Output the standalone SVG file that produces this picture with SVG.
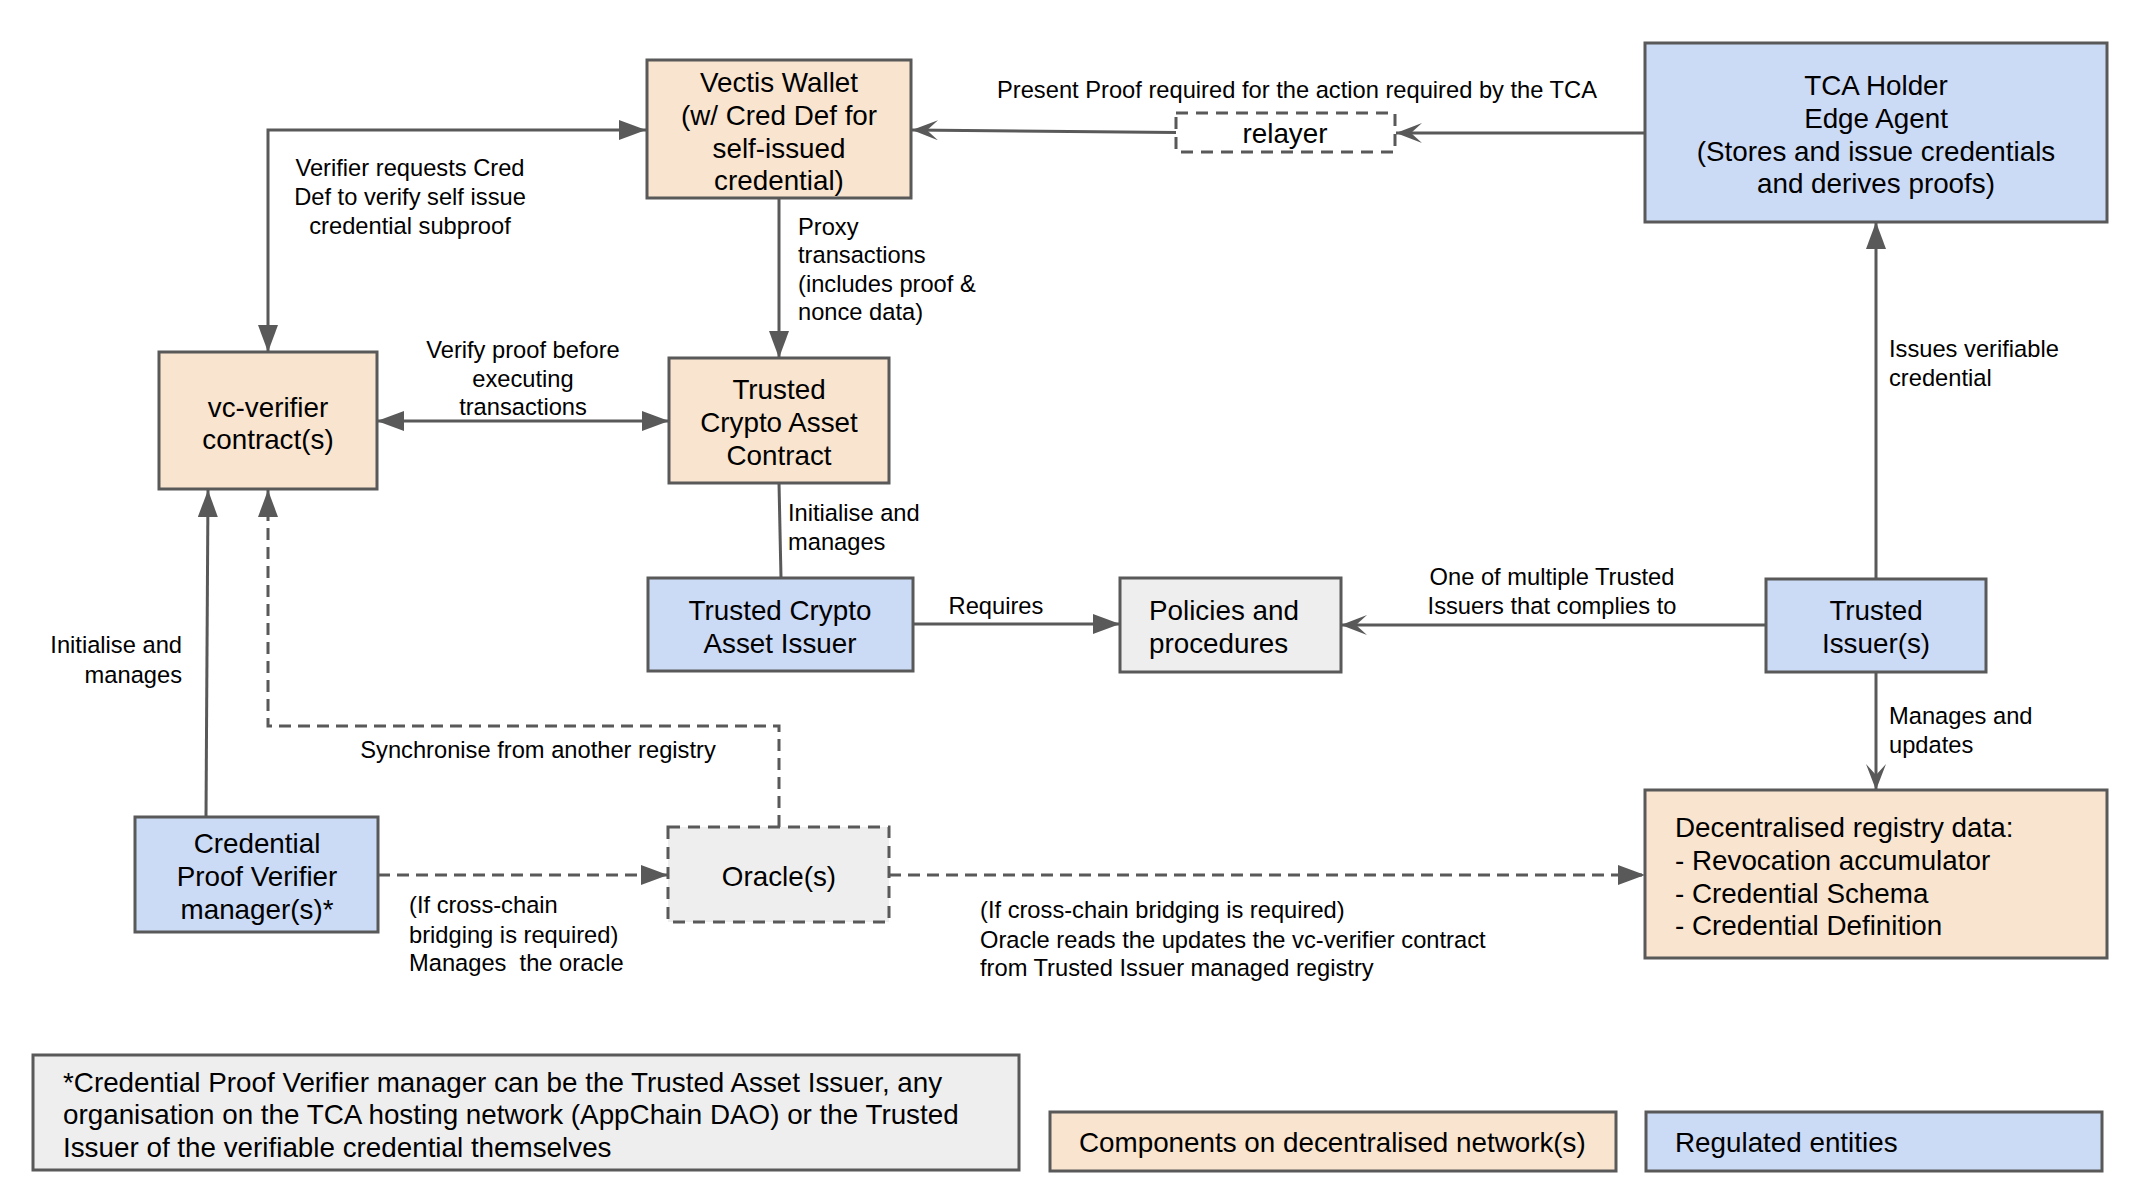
<svg xmlns="http://www.w3.org/2000/svg" width="2144" height="1204" viewBox="0 0 2144 1204">
  <style>
    .box { stroke: #595959; stroke-width: 3; }
    .peach { fill: #f8e4cf; }
    .blue { fill: #cbdaf5; }
    .grey { fill: #eeeeee; }
    .dashbox { stroke-dasharray: 12 8; }
    .node { font-family: "Liberation Sans", Arial, sans-serif; font-size: 27.8px; fill: #000; }
    .lbl { font-family: "Liberation Sans", Arial, sans-serif; font-size: 23.7px; fill: #000; }
    .mid { text-anchor: middle; }
    .end { text-anchor: end; }
    .edge { fill: none; stroke: #595959; stroke-width: 3; }
    .dashed { stroke-dasharray: 12 7; }
  </style>
  <defs>
    <marker id="tri" markerUnits="userSpaceOnUse" markerWidth="28" markerHeight="22" refX="27" refY="10" orient="auto-start-reverse" viewBox="0 0 28 22">
      <path d="M0,0 L27,10 L0,20 Z" fill="#595959"/>
    </marker>
    <marker id="stealth" markerUnits="userSpaceOnUse" markerWidth="28" markerHeight="22" refX="26" refY="10" orient="auto-start-reverse" viewBox="0 0 28 22">
      <path d="M0,0 L26,10 L0,20 L11,10 Z" fill="#595959"/>
    </marker>
  </defs>

  <rect width="2144" height="1204" fill="#ffffff"/>

  <!-- connectors -->
  <g id="connectors">
    <path class="edge" d="M268,352 V130 H646" marker-start="url(#tri)" marker-end="url(#tri)"/>
    <path class="edge" d="M779,198 V358" marker-end="url(#tri)"/>
    <path class="edge" d="M377,421 H669" marker-start="url(#tri)" marker-end="url(#tri)"/>
    <path class="edge" d="M779,483 L781,578"/>
    <path class="edge" d="M913,624 H1120" marker-end="url(#tri)"/>
    <path class="edge" d="M1766,625 H1341" marker-end="url(#stealth)"/>
    <path class="edge" d="M1645,133 H1396" marker-end="url(#stealth)"/>
    <path class="edge" d="M1176,132.5 L912,130" marker-end="url(#stealth)"/>
    <path class="edge" d="M1876,579 V222" marker-end="url(#tri)"/>
    <path class="edge" d="M1876,672 V790" marker-end="url(#stealth)"/>
    <path class="edge" d="M206,817 L208,490" marker-end="url(#tri)"/>
    <path class="edge dashed" d="M779,827 V726 H268 V490" marker-end="url(#tri)"/>
    <path class="edge dashed" d="M378,875 H668" marker-end="url(#tri)"/>
    <path class="edge dashed" d="M889,875 H1645" marker-end="url(#tri)"/>

    <text class="lbl mid" x="1297" y="98">Present Proof required for the action required by the TCA</text>
    <text class="lbl mid" x="410" y="176">Verifier requests Cred</text>
    <text class="lbl mid" x="410" y="205">Def to verify self issue</text>
    <text class="lbl mid" x="410" y="234">credential subproof</text>
    <text class="lbl" x="798" y="235">Proxy</text>
    <text class="lbl" x="798" y="263">transactions</text>
    <text class="lbl" x="798" y="292">(includes proof &amp;</text>
    <text class="lbl" x="798" y="320">nonce data)</text>
    <text class="lbl mid" x="523" y="358">Verify proof before</text>
    <text class="lbl mid" x="523" y="387">executing</text>
    <text class="lbl mid" x="523" y="415">transactions</text>
    <text class="lbl" x="788" y="521">Initialise and</text>
    <text class="lbl" x="788" y="550">manages</text>
    <text class="lbl end" x="182" y="653">Initialise and</text>
    <text class="lbl end" x="182" y="683">manages</text>
    <text class="lbl mid" x="538" y="758">Synchronise from another registry</text>
    <text class="lbl" x="409" y="913">(If cross-chain</text>
    <text class="lbl" x="409" y="943">bridging is required)</text>
    <text class="lbl" x="409" y="971" xml:space="preserve">Manages  the oracle</text>
    <text class="lbl" x="980" y="918">(If cross-chain bridging is required)</text>
    <text class="lbl" x="980" y="948">Oracle reads the updates the vc-verifier contract</text>
    <text class="lbl" x="980" y="976">from Trusted Issuer managed registry</text>
    <text class="lbl mid" x="996" y="614">Requires</text>
    <text class="lbl mid" x="1552" y="585">One of multiple Trusted</text>
    <text class="lbl mid" x="1552" y="614">Issuers that complies to</text>
    <text class="lbl" x="1889" y="357">Issues verifiable</text>
    <text class="lbl" x="1889" y="386">credential</text>
    <text class="lbl" x="1889" y="724">Manages and</text>
    <text class="lbl" x="1889" y="753">updates</text>
  </g>

  <!-- nodes -->
  <g id="vectis-wallet">
    <rect class="box peach" x="647" y="60" width="264" height="138"/>
    <text class="node mid" x="779" y="92">Vectis Wallet</text>
    <text class="node mid" x="779" y="125">(w/ Cred Def for</text>
    <text class="node mid" x="779" y="158">self-issued</text>
    <text class="node mid" x="779" y="190">credential)</text>
  </g>

  <g id="tca-holder">
    <rect class="box blue" x="1645" y="43" width="462" height="179"/>
    <text class="node mid" x="1876" y="95">TCA Holder</text>
    <text class="node mid" x="1876" y="128">Edge Agent</text>
    <text class="node mid" x="1876" y="161">(Stores and issue credentials</text>
    <text class="node mid" x="1876" y="193">and derives proofs)</text>
  </g>

  <g id="relayer">
    <rect class="box dashbox" fill="#ffffff" x="1176" y="113" width="219" height="39"/>
    <text class="node mid" x="1285" y="143">relayer</text>
  </g>

  <g id="vc-verifier">
    <rect class="box peach" x="159" y="352" width="218" height="137"/>
    <text class="node mid" x="268" y="417">vc-verifier</text>
    <text class="node mid" x="268" y="449">contract(s)</text>
  </g>

  <g id="tca-contract">
    <rect class="box peach" x="669" y="358" width="220" height="125"/>
    <text class="node mid" x="779" y="399">Trusted</text>
    <text class="node mid" x="779" y="432">Crypto Asset</text>
    <text class="node mid" x="779" y="465">Contract</text>
  </g>

  <g id="tca-issuer">
    <rect class="box blue" x="648" y="578" width="265" height="93"/>
    <text class="node mid" x="780" y="620">Trusted Crypto</text>
    <text class="node mid" x="780" y="653">Asset Issuer</text>
  </g>

  <g id="policies">
    <rect class="box grey" x="1120" y="578" width="221" height="94"/>
    <text class="node" x="1149" y="620">Policies and</text>
    <text class="node" x="1149" y="653">procedures</text>
  </g>

  <g id="trusted-issuer">
    <rect class="box blue" x="1766" y="579" width="220" height="93"/>
    <text class="node mid" x="1876" y="620">Trusted</text>
    <text class="node mid" x="1876" y="653">Issuer(s)</text>
  </g>

  <g id="registry">
    <rect class="box peach" x="1645" y="790" width="462" height="168"/>
    <text class="node" x="1675" y="837">Decentralised registry data:</text>
    <text class="node" x="1675" y="870">- Revocation accumulator</text>
    <text class="node" x="1675" y="903">- Credential Schema</text>
    <text class="node" x="1675" y="935">- Credential Definition</text>
  </g>

  <g id="cpv-manager">
    <rect class="box blue" x="135" y="817" width="243" height="115"/>
    <text class="node mid" x="257" y="853">Credential</text>
    <text class="node mid" x="257" y="886">Proof Verifier</text>
    <text class="node mid" x="257" y="919">manager(s)*</text>
  </g>

  <g id="oracle">
    <rect class="box grey dashbox" x="668" y="827" width="221" height="95"/>
    <text class="node mid" x="779" y="886">Oracle(s)</text>
  </g>

  <g id="footnote">
    <rect class="box grey" x="33" y="1055" width="986" height="115"/>
    <text class="node" x="63" y="1092">*Credential Proof Verifier manager can be the Trusted Asset Issuer, any</text>
    <text class="node" x="63" y="1124">organisation on the TCA hosting network (AppChain DAO) or the Trusted</text>
    <text class="node" x="63" y="1157">Issuer of the verifiable credential themselves</text>
  </g>

  <g id="legend-decentralised">
    <rect class="box peach" x="1050" y="1112" width="566" height="59"/>
    <text class="node" x="1079" y="1152">Components on decentralised network(s)</text>
  </g>

  <g id="legend-regulated">
    <rect class="box blue" x="1646" y="1112" width="456" height="59"/>
    <text class="node" x="1675" y="1152">Regulated entities</text>
  </g>
</svg>
